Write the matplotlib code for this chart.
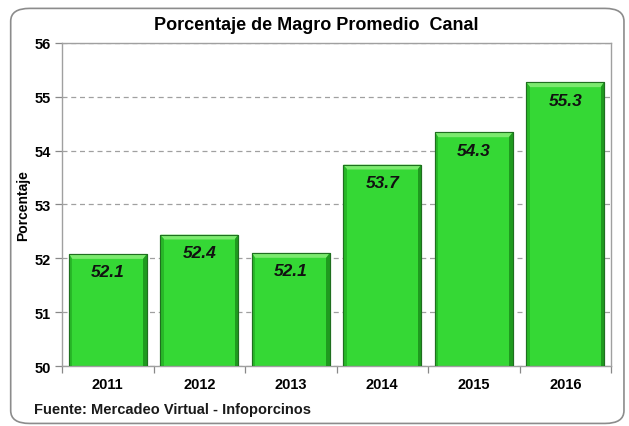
import matplotlib
matplotlib.use("Agg")
import matplotlib.pyplot as plt
from matplotlib.patches import FancyBboxPatch, Polygon, Rectangle
import numpy as np

years = ["2011", "2012", "2013", "2014", "2015", "2016"]
values = [52.08, 52.44, 52.10, 53.74, 54.34, 55.27]
labels = ["52.1", "52.4", "52.1", "53.7", "54.3", "55.3"]
title = "Porcentaje de Magro Promedio  Canal"
ylabel = "Porcentaje"
source = "Fuente: Mercadeo Virtual - Infoporcinos"

plt.rcParams['font.family'] = ['Liberation Sans', 'DejaVu Sans']

fig = plt.figure(figsize=(6.29, 4.27), dpi=100)
fig.patch.set_facecolor("white")

border = FancyBboxPatch((0.017, 0.006), 0.975, 0.972, boxstyle="round,pad=0,rounding_size=0.03",
                        transform=fig.transFigure, facecolor="none", edgecolor="#8c8c8c",
                        linewidth=1.2, zorder=-5)
fig.patches.append(border)

ax = fig.add_axes([0.0986, 0.1405, 0.8728, 0.7565])
ax.set_facecolor("white")
ax.set_zorder(2)
x = np.arange(len(years))
w = 0.85
ax.set_ylim(50, 56)
ax.set_xlim(-0.5, len(years) - 0.5)

ax.yaxis.grid(True, linestyle=(0, (4, 3)), color="#a0a0a0", linewidth=0.9)
ax.set_axisbelow(True)

bars = ax.bar(x, values, width=w, color="#35d835", edgecolor="#1f6f1f", linewidth=0.8, zorder=2)

# bevel decorations derived from each bar
for b in bars:
    x0 = b.get_x(); x1 = x0 + b.get_width(); y0 = 50; y1 = b.get_height()
    bw = b.get_width() * 0.045
    bh = 0.09
    ax.add_patch(Polygon([[x0, y1], [x1, y1], [x1 - bw, y1 - bh], [x0 + bw, y1 - bh]],
                         closed=True, facecolor="#7bea6e", edgecolor="none", zorder=3))
    ax.add_patch(Polygon([[x1, y1], [x1, y0], [x1 - bw, y0], [x1 - bw, y1 - bh]],
                         closed=True, facecolor="#1f9a1f", edgecolor="none", zorder=3))
    ax.add_patch(Polygon([[x0, y1], [x0, y0], [x0 + bw, y0], [x0 + bw, y1 - bh]],
                         closed=True, facecolor="#28b828", edgecolor="none", zorder=3))
    ax.add_patch(Rectangle((x0, y0), b.get_width(), y1 - y0, facecolor="none",
                           edgecolor="#1f6f1f", linewidth=0.8, zorder=4))

for xi, v, lab in zip(x, values, labels):
    ax.text(xi, v - 0.33, lab, ha="center", va="center", fontsize=12.5, fontweight="bold",
            fontstyle="italic", color="#111111", zorder=5)

ax.set_yticks(np.arange(50, 57, 1))
ax.set_yticklabels([str(v) for v in range(50, 57)], fontsize=10.5, fontweight="bold")
ax.set_xticks(x)
ax.set_xticklabels(years, fontsize=10.5, fontweight="bold")
ax.set_xticks(np.arange(-0.5, len(years) + 0.5, 1), minor=True)
ax.tick_params(axis="x", which="major", length=0, pad=8)
ax.tick_params(axis="x", which="minor", length=5, color="#888888", width=0.9, direction="out")
ax.tick_params(axis="y", length=5, color="#888888", width=0.9, direction="out", pad=3)

for s in ["top", "right", "left", "bottom"]:
    ax.spines[s].set_color("#a0a0a0")
    ax.spines[s].set_linewidth(1.0)

ax.set_ylabel(ylabel, fontsize=10, fontweight="bold", labelpad=3)

fig.text(0.503, 0.94, title, ha="center", va="center", fontsize=13, fontweight="bold",
         family=['Liberation Sans Narrow', 'Liberation Sans', 'DejaVu Sans'])
fig.text(0.054, 0.04, source, ha="left", va="center", fontsize=10.5, fontweight="bold",
         color="#1a1a1a")

fig.savefig("out.png", dpi=100)
